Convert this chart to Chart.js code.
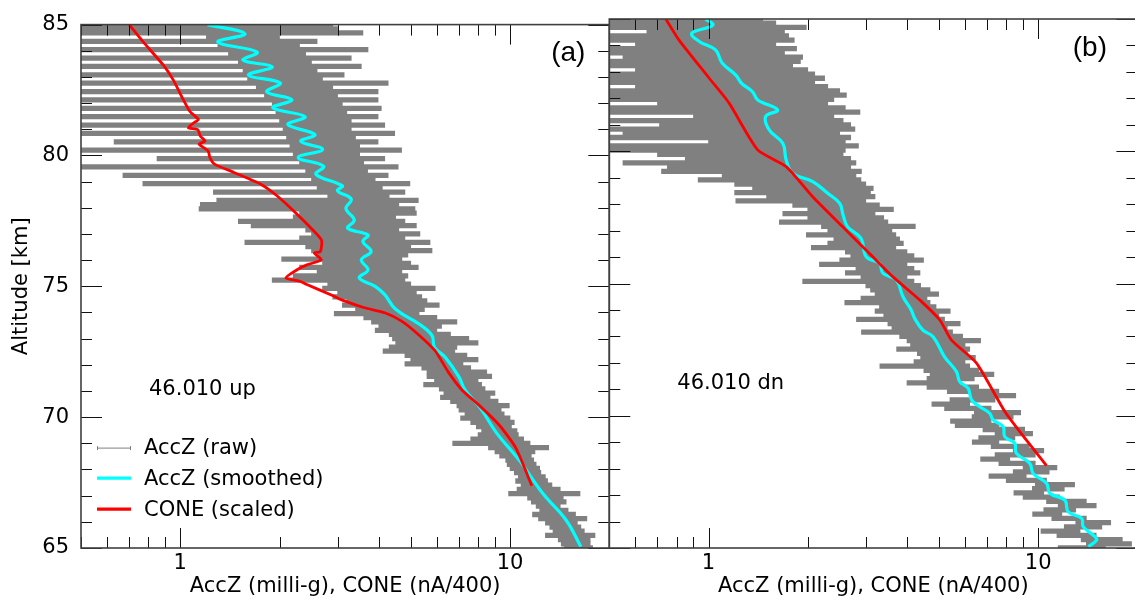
<!DOCTYPE html>
<html><head><meta charset="utf-8">
<script src="https://cdn.jsdelivr.net/npm/chart.js@4.4.1/dist/chart.umd.min.js"></script>
<style>
html,body{margin:0;padding:0;background:#fff;overflow:hidden;}
body{width:1135px;height:605px;position:relative;}
canvas{position:absolute;top:0;}
#ca{left:0;}
#cb{left:600px;}
</style></head><body>
<canvas id="ca" width="612" height="605"></canvas>
<canvas id="cb" width="545" height="605"></canvas>
<script>
// ---------------- data ----------------
const xMin = 0.5, xMax = 20, yMin = 65, yMax = 85;
const yMajorTicks = [65,70,75,80,85];
const yTickLabels = ['65','70','75','80','85'];
const yMinorTicks = [66,67,68,69,71,72,73,74,76,77,78,79,81,82,83,84];
const xMajorTicks = [1,10];
const xTickLabels = ['1','10'];
const xMinorTicks = [0.5,0.6,0.7,0.8,0.9,2,3,4,5,6,7,8,9,20];
const xTitle = 'AccZ (milli-g), CONE (nA/400)';
const yTitle = 'Altitude [km]';
const seriesNames = ['AccZ (raw)','AccZ (smoothed)','CONE (scaled)'];
const panelTags = ['(a)','(b)'];
const flightLabels = ['46.010 up','46.010 dn'];

// raw AccZ: altitude rows (km) with min / max of the raw signal in each row
const altRows = [85.00,84.84,84.68,84.52,84.36,84.20,84.04,83.88,83.72,83.56,83.40,83.24,83.08,82.92,82.76,82.60,82.44,82.28,82.12,81.96,81.80,81.64,81.48,81.32,81.16,81.00,80.84,80.68,80.52,80.36,80.20,80.04,79.88,79.72,79.56,79.40,79.24,79.08,78.92,78.76,78.60,78.44,78.28,78.12,77.96,77.80,77.64,77.48,77.32,77.16,77.00,76.84,76.68,76.52,76.36,76.20,76.04,75.88,75.72,75.56,75.40,75.24,75.08,74.92,74.76,74.60,74.44,74.28,74.12,73.96,73.80,73.64,73.48,73.32,73.16,73.00,72.84,72.68,72.52,72.36,72.20,72.04,71.88,71.72,71.56,71.40,71.24,71.08,70.92,70.76,70.60,70.44,70.28,70.12,69.96,69.80,69.64,69.48,69.32,69.16,69.00,68.84,68.68,68.52,68.36,68.20,68.04,67.88,67.72,67.56,67.40,67.24,67.08,66.92,66.76,66.60,66.44,66.28,66.12,65.96,65.80,65.64,65.48,65.32,65.16,65.00];

const rawA_lo = [0.3,0.3,0.3,1.2,0.3,1.3,0.3,1.4,0.3,1.5,0.3,1.55,0.3,1.6,0.3,1.7,0.3,1.8,0.3,1.9,0.3,1.95,0.3,2.0,0.3,2.05,0.3,2.1,0.63,2.15,0.3,2.2,0.85,2.3,0.45,2.4,0.67,2.5,0.77,2.6,1.26,2.8,1.29,
 1.15,1.14,2.3,2.2,1.5,1.64,2.4,2.5,2.3,1.57,2.4,2.5,2.6,2.03,2.7,2.3,2.6,2.2,1.9,2.8,2.7,3.0,2.9,3.2,3.1,3.4,2.93,3.6,3.8,4.0,3.9,4.3,4.4,4.5,4.3,4.12,4.8,5.0,4.8,5.4,5.6,5.6,5.9,5.47,6.1,6.3,6.15,6.6,6.9,7.0,7.3,7.08,7.6,7.9,8.2,8.0,7.6,6.7,8.6,9.0,9.3,9.7,9.8,10.0,10.3,10.6,10.4,10.8,10.5,9.9,11.3,11.6,12.0,12.3,11.7,12.2,12.8,13.2,13.5,12.8,14.0,14.3,14.6];
const rawA_hi = [2.9,3.0,3.58,2.0,2.6,2.3,3.71,2.4,3.3,2.5,3.54,2.6,3.14,2.7,4.27,2.9,3.98,3.0,3.98,3.1,4.07,3.2,3.98,3.3,4.17,3.3,4.47,3.4,3.98,3.5,4.69,3.5,4.17,3.6,4.58,3.7,4.27,3.9,4.97,4.1,4.8,4.3,5.27,
 4.6,5.15,5.2,4.5,4.8,5.2,4.6,5.33,4.8,5.72,5.0,5.8,4.9,4.7,5.0,5.27,4.7,4.9,4.8,5.0,5.93,5.2,5.4,5.6,6.1,5.5,5.3,6.0,6.9,6.2,6.0,6.6,7.5,8.0,6.9,6.8,7.4,8.0,7.2,7.6,8.5,8.8,8.0,8.2,8.4,9.0,8.7,9.2,9.95,9.4,9.6,10.0,10.3,10.1,10.5,10.6,11.0,11.5,13.1,11.9,11.6,11.8,12.0,12.3,12.4,12.8,13.0,13.4,14.2,16.3,14.5,14.8,14.2,15.0,15.8,17.1,16.0,16.4,16.8,18.1,17.5,17.5,17.8];

const rawB_lo = [0.3,0.3,0.3,0.65,0.3,0.3,0.6,0.3,0.3,0.55,0.3,0.3,0.6,0.3,0.3,0.3,0.6,0.3,0.3,0.3,0.7,0.3,0.3,0.9,0.3,0.71,0.3,0.55,0.3,1.0,0.3,0.5,0.7,0.85,0.55,0.75,0.72,1.1,0.93,1.2,1.36,1.2,1.5,
 1.21,1.8,2.0,1.68,2.0,1.64,2.2,2.3,1.98,2.4,2.3,2.05,2.6,2.7,2.5,2.17,2.8,2.6,2.9,1.93,3.0,3.1,3.2,2.9,2.59,3.3,3.2,3.4,2.81,3.5,3.6,2.91,3.8,4.0,4.1,3.72,4.3,4.4,4.2,3.31,4.5,4.7,4.6,4.0,4.6,5.3,6.2,5.4,4.76,5.2,6.4,6.3,5.42,5.6,6.8,7.4,6.6,6.31,7.2,8.4,7.4,6.69,7.6,9.0,8.4,7.09,8.0,9.8,9.6,8.44,9.0,10.6,11.5,10.4,9.62,11.0,13.0,12.0,10.2,11.4,13.5,14.0,11.5];
const rawB_hi = [1.46,1.6,1.98,1.7,1.75,1.82,1.6,1.85,1.7,1.93,1.9,1.8,2.0,2.1,2.25,2.1,2.3,2.5,2.62,2.4,2.3,2.6,2.88,2.4,2.56,2.7,2.78,2.5,2.7,2.6,2.85,2.6,2.56,2.7,2.8,2.7,2.91,2.8,2.9,3.0,3.16,3.1,3.2,
 3.0,3.3,3.64,3.2,3.4,3.5,4.24,3.6,3.7,3.8,3.9,3.7,4.0,4.2,4.49,4.0,4.2,4.38,4.0,4.2,4.4,4.7,4.99,4.6,4.7,4.9,5.41,5.0,5.2,5.8,5.3,5.5,5.9,6.69,6.0,6.2,6.1,6.45,6.0,6.2,6.6,7.34,6.4,5.8,6.6,7.6,8.55,7.4,6.2,7.2,8.85,8.4,7.2,7.6,9.1,9.62,8.5,7.6,9.4,10.4,9.8,8.2,9.8,11.4,10.8,9.2,10.6,12.9,12.0,10.4,11.6,14.0,15.0,13.0,11.8,14.0,16.6,15.6,13.4,15.0,18.0,19.2,16.0];

// smoothed AccZ
const smoothA_alt = [85.0,84.65,84.33,83.95,83.64,83.39,83.07,82.77,82.43,82.13,81.82,81.48,81.18,80.80,80.54,80.23,79.92,79.59,79.28,78.84,78.65,78.33,77.97,77.53,77.22,76.96,76.71,76.33,76.01,75.63,75.32,75.0,74.68,74.12,73.56,73.12,72.67,72.28,71.54,71.05,70.33,69.4,68.33,67.07,66.06,65.05];
const smoothA_val = [1.21,1.57,1.30,1.71,1.55,1.90,1.61,2.01,1.83,2.18,1.91,2.39,2.12,2.56,2.32,2.70,2.28,2.72,2.58,3.10,3.0,3.3,3.18,3.37,3.22,3.71,3.58,3.79,3.54,3.71,3.49,3.9,4.17,4.5,5.3,5.8,5.9,6.37,7.0,7.3,8.15,9.1,10.7,12.6,14.8,16.4];
const smoothB_alt = [85.0,84.77,84.46,84.14,83.83,83.34,82.88,82.57,82.25,81.94,81.56,81.31,80.80,80.30,79.67,79.17,78.85,78.41,78.03,77.59,77.15,76.71,76.01,75.76,75.39,75.13,74.50,74.0,73.68,73.24,72.99,72.23,71.67,71.29,71.04,70.60,70.34,70.09,69.84,69.59,69.21,68.96,68.58,68.20,67.82,67.45,67.07,66.81,66.37,66.12,65.81,65.43,65.30,65.05];
const smoothB_val = [0.98,1.03,0.89,0.94,1.05,1.10,1.21,1.26,1.36,1.41,1.62,1.49,1.53,1.68,1.72,1.80,2.07,2.30,2.50,2.56,2.64,2.90,3.01,3.30,3.38,3.71,3.89,4.12,4.22,4.47,4.80,5.20,5.65,5.78,6.13,6.28,6.65,7.13,7.30,7.83,7.92,8.49,8.59,9.43,9.66,10.6,10.85,12.05,12.33,13.55,13.7,14.87,15.04,14.2];

// CONE (scaled)
const coneA_alt = [85.0,84.33,83.45,82.88,82.25,81.68,81.37,81.25,81.06,80.99,80.74,80.55,80.43,80.17,79.92,79.67,79.36,78.91,78.47,77.9,77.34,76.77,76.33,76.27,76.01,75.82,75.63,75.32,75.19,75.07,74.62,74.49,74.18,73.99,73.67,73.16,72.53,71.72,71.03,70.46,69.7,68.81,67.38];
const coneA_val = [0.70,0.773,0.889,0.953,1.01,1.07,1.135,1.10,1.058,1.13,1.15,1.19,1.14,1.215,1.23,1.27,1.45,1.75,1.96,2.2,2.44,2.68,2.66,2.55,2.68,2.42,2.26,2.09,2.31,2.42,2.93,3.07,3.62,4.17,4.69,5.27,5.93,6.5,7.16,8.05,9.27,10.43,11.64];
const coneB_alt = [85.0,84.2,82.76,81.81,80.05,79.42,78.28,77.15,76.01,75.26,74.38,73.62,72.87,71.99,70.16,69.19,68.11];
const coneB_val = [0.742,0.814,1.005,1.156,1.41,1.72,2.07,2.55,3.15,3.62,4.37,5.03,5.45,6.5,7.92,9.06,10.6];

// ---------------- drawing ----------------
const COL_RAW = '#808080', COL_SM = '#00ffff', COL_CONE = '#ff0000';
const FONT = "'DejaVu Sans', sans-serif";
const TAG_FONT = "'Liberation Sans', Arial, sans-serif";

function pts(vals, alts){ return alts.map((a,i)=>({x: vals[i], y: a})); }

function decoPlugin(p){
  return {
    id: 'deco',
    afterDatasetsDraw(chart){
      const {ctx, chartArea: a, scales: {x, y}} = chart;
      ctx.save();
      ctx.strokeStyle = '#111'; ctx.lineWidth = 1;
      ctx.beginPath();
      const hy = (v, len) => { const py = Math.round(y.getPixelForValue(v)) + 0.5;
        ctx.moveTo(a.left, py); ctx.lineTo(a.left + len, py);
        ctx.moveTo(a.right, py); ctx.lineTo(a.right - len, py); };
      const vx = (v, len) => { const px = Math.round(x.getPixelForValue(v)) + 0.5;
        ctx.moveTo(px, a.bottom); ctx.lineTo(px, a.bottom - len);
        ctx.moveTo(px, a.top); ctx.lineTo(px, a.top + len); };
      yMajorTicks.forEach(v => hy(v, 21)); yMinorTicks.forEach(v => hy(v, 11));
      xMajorTicks.forEach(v => vx(v, 20)); xMinorTicks.forEach(v => vx(v, 11));
      ctx.stroke();
      ctx.strokeStyle = '#404040'; ctx.lineWidth = 1.6;
      ctx.strokeRect(a.left, a.top, a.right - a.left, a.bottom - a.top);

      ctx.fillStyle = '#000';
      ctx.font = '28px ' + TAG_FONT; ctx.textAlign = 'center'; ctx.textBaseline = 'middle';
      ctx.fillText(p.tag, a.right - p.tagDX, a.top + 29);
      ctx.font = '21px ' + FONT; ctx.textAlign = 'left'; ctx.textBaseline = 'alphabetic';
      ctx.fillText(p.flight, a.left + 68, a.top + 370);

      if (p.legend) {
        const rows = [a.top + 423, a.top + 453.5, a.top + 484.5];
        const x0 = a.left + 16, x1 = a.left + 50, tx = a.left + 63;
        ctx.lineCap = 'butt';
        ctx.strokeStyle = COL_RAW; ctx.lineWidth = 1;
        ctx.beginPath(); ctx.moveTo(x0, rows[0] + 0.5); ctx.lineTo(x1, rows[0] + 0.5);
        ctx.moveTo(x0 + 0.5, rows[0] - 1.5); ctx.lineTo(x0 + 0.5, rows[0] + 2.5);
        ctx.moveTo(x1 - 0.5, rows[0] - 1.5); ctx.lineTo(x1 - 0.5, rows[0] + 2.5);
        ctx.stroke();
        ctx.lineWidth = 3.2;
        ctx.strokeStyle = COL_SM; ctx.beginPath(); ctx.moveTo(x0, rows[1]); ctx.lineTo(x1, rows[1]); ctx.stroke();
        ctx.strokeStyle = COL_CONE; ctx.beginPath(); ctx.moveTo(x0, rows[2]); ctx.lineTo(x1, rows[2]); ctx.stroke();
        ctx.fillStyle = '#000'; ctx.font = '21px ' + FONT; ctx.textBaseline = 'middle';
        seriesNames.forEach((s, i) => ctx.fillText(s, tx, rows[i] + 1));
      }
      ctx.restore();
    }
  };
}

function buildChart(id, p){
  const tickFont = {family: FONT, size: 21};
  return new Chart(document.getElementById(id), {
    type: 'bar',
    data: { datasets: [
      { type: 'line', label: seriesNames[2], data: pts(p.coneVal, p.coneAlt), indexAxis: 'y',
        borderColor: COL_CONE, borderWidth: 2.8, pointRadius: 0, fill: false, tension: 0.2, clip: 0 },
      { type: 'line', label: seriesNames[1], data: pts(p.smVal, p.smAlt), indexAxis: 'y',
        borderColor: COL_SM, borderWidth: 3.2, pointRadius: 0, fill: false, tension: 0.4, clip: 0 },
      { type: 'bar', label: seriesNames[0], indexAxis: 'y',
        data: altRows.map((a, i) => ({y: a, x: [p.lo[i], p.hi[i]]})),
        backgroundColor: COL_RAW, borderWidth: 0, barThickness: 4.6, grouped: false, clip: 0 }
    ]},
    options: {
      indexAxis: 'y', responsive: false, animation: false, events: [],
      layout: { padding: p.padding },
      plugins: { legend: {display: false}, tooltip: {enabled: false} },
      scales: {
        x: { type: 'logarithmic', min: xMin, max: xMax, position: 'bottom',
             grid: {display: false, drawTicks: false}, border: {display: false},
             afterBuildTicks: s => { s.ticks = xMajorTicks.map(v => ({value: v})); },
             ticks: { callback: v => { const k = xMajorTicks.indexOf(v); return k >= 0 ? xTickLabels[k] : ''; },
                      font: tickFont, color: '#000', padding: 3, autoSkip: false, maxRotation: 0 },
             title: { display: true, text: xTitle, font: tickFont, color: '#000', padding: {top: 0, bottom: 6} },
             afterFit: s => { s.height = 57; } },
        y: { type: 'linear', min: yMin, max: yMax, offset: false, display: p.showY, position: 'left',
             grid: {display: false, drawTicks: false, offset: false}, border: {display: false},
             afterBuildTicks: s => { s.ticks = yMajorTicks.map(v => ({value: v})); },
             ticks: { callback: v => { const k = yMajorTicks.indexOf(v); return k >= 0 ? yTickLabels[k] : ''; },
                      font: tickFont, color: '#000', padding: 12 },
             title: { display: p.showY, text: yTitle, font: tickFont, color: '#000', padding: {top: 9, bottom: 0} },
             afterFit: s => { s.width = p.showY ? 81 : 0; } }
      }
    },
    plugins: [decoPlugin(p)]
  });
}

buildChart('ca', { lo: rawA_lo, hi: rawA_hi, smAlt: smoothA_alt, smVal: smoothA_val,
  coneAlt: coneA_alt, coneVal: coneA_val, showY: true, legend: true,
  tag: panelTags[0], tagDX: 41, flight: flightLabels[0],
  padding: {left: 0, top: 19, right: 2.7, bottom: 0} });
buildChart('cb', { lo: rawB_lo, hi: rawB_hi, smAlt: smoothB_alt, smVal: smoothB_val,
  coneAlt: coneB_alt, coneVal: coneB_val, showY: false, legend: false,
  tag: panelTags[1], tagDX: 47.5, flight: flightLabels[1],
  padding: {left: 9.3, top: 19, right: 7.6, bottom: 0} });
</script>
</body></html>
